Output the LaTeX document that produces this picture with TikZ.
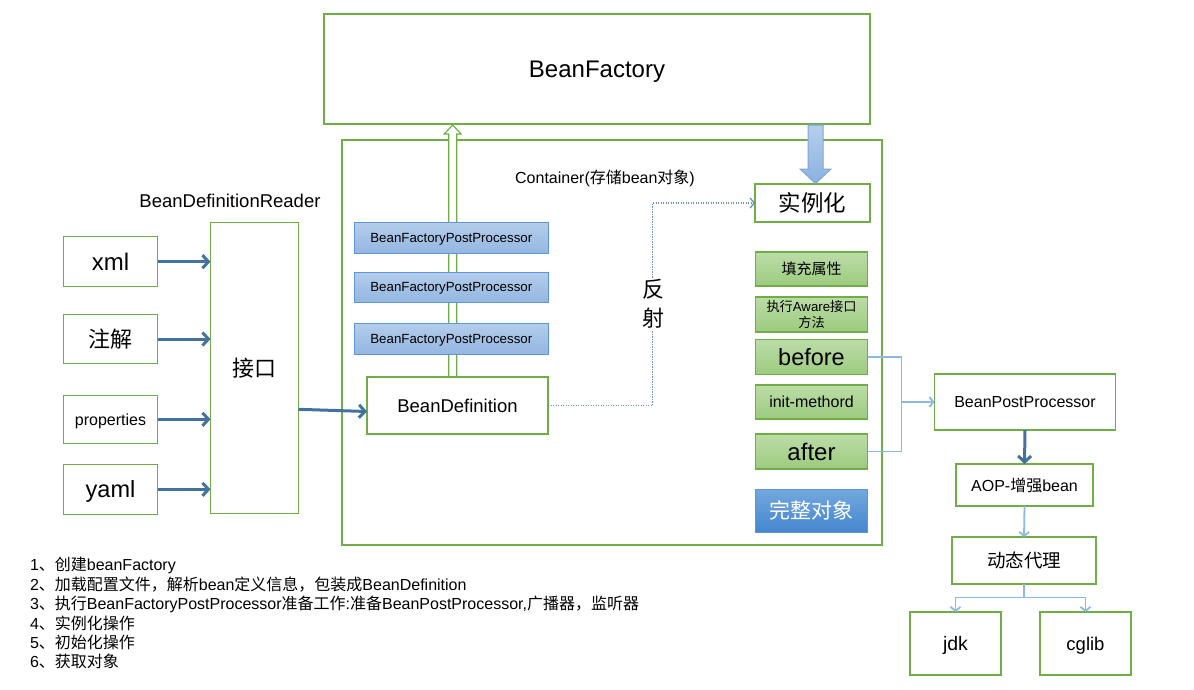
\documentclass[tikz,border=0pt]{standalone}
\usepackage{fontspec}
\setmainfont{Liberation Sans}
\newfontfamily\cjk{Noto Sans CJK SC}
\newcommand\zh[1]{{\cjk #1}}
\newcommand\fsz[1]{\fontsize{#1}{#1}\selectfont}
\usetikzlibrary{arrows.meta,calc}
\definecolor{gborder}{HTML}{70AD47}
\definecolor{gtop}{HTML}{BCDCA8}
\definecolor{gbot}{HTML}{9CCB7E}
\definecolor{bborder}{HTML}{5F96D6}
\definecolor{btop}{HTML}{B3CDEB}
\definecolor{bbot}{HTML}{94B6E1}
\definecolor{ctop}{HTML}{72A8DE}
\definecolor{cbot}{HTML}{4686CF}
\definecolor{darrow}{HTML}{44729F}
\definecolor{lblue}{HTML}{8DB8E3}
\definecolor{dotc}{HTML}{6F8FB8}
\definecolor{ftop}{HTML}{B7CFEC}
\definecolor{fbot}{HTML}{8AB0E0}
\definecolor{fborder}{HTML}{7FA6D8}
\begin{document}
\begin{tikzpicture}[x=1pt,y=-1pt,
  every node/.style={inner sep=0pt,outer sep=0pt},
  nd/.style={text depth=0pt},
  gbox/.style={draw=gborder,line width=1.1pt,fill=white},
  greenfill/.style={draw=gborder,line width=1.1pt,top color=gtop,bottom color=gbot},
  bfppbox/.style={draw=bborder,line width=1pt,top color=btop,bottom color=bbot,nd},
  donebox/.style={draw=bborder,line width=1pt,top color=ctop,bottom color=cbot,text=white},
  thickarrow/.style={draw=darrow,line width=3pt,-{Straight Barb[length=6pt,width=13pt]}},
  lbline/.style={draw=lblue,line width=1.8pt},
  lbarrow/.style={lbline,-{Straight Barb[length=4pt,width=10pt]}},
  dotconn/.style={draw=dotc,line width=1.3pt,dash pattern=on 1.2pt off 1.3pt,-{Straight Barb[length=4pt,width=10pt]}}
]
\useasboundingbox (0,0) rectangle (1194,689);

% big boxes
\node[gbox,nd,minimum width=546,minimum height=110] (bf) at (597,69) {\fsz{24}BeanFactory};
\node[gbox,minimum width=540,minimum height=405] (ct) at (612,342.5) {};
\node[nd] (ctlabel) at (605,177) {\fsz{16}Container(\zh{存储}bean\zh{对象})};

% hollow up arrow (behind the BFPP boxes)
\coordinate (ua) at (452.7,377);
\begin{scope}[shift={(ua)}]
\draw[draw=gborder,line width=1.1pt,fill=white] (-4,0) -- (-4,-243) -- (-8.5,-243) -- (0,-252) -- (8.5,-243) -- (4,-243) -- (4,0) -- cycle;
\end{scope}

% reader side
\node[nd] (reader) at (230,200.7) {\fsz{18.5}BeanDefinitionReader};
\node[gbox,minimum width=94,minimum height=50] (xml) at (110.5,261.7) {\fsz{24}xml};
\node[gbox,minimum width=94,minimum height=49] (zj) at (110.5,339) {\fsz{22}\zh{注解}};
\node[gbox,nd,minimum width=94,minimum height=48] (prop) at (110.5,419.3) {\fsz{16}properties};
\node[gbox,nd,minimum width=94,minimum height=50] (yaml) at (110.5,489.3) {\fsz{23.5}yaml};
\node[gbox,minimum width=88,minimum height=291] (jk) at (254.5,367.8) {\fsz{22}\zh{接口}};

\draw[thickarrow] (xml.east) -- (jk.west |- xml.east);
\draw[thickarrow] (zj.east) -- (jk.west |- zj.east);
\draw[thickarrow] (prop.east) -- (jk.west |- prop.east);
\draw[thickarrow] (yaml.east) -- (jk.west |- yaml.east);

% BFPP boxes
\node[bfppbox,minimum width=194,minimum height=31] (bfpp1) at (451.3,238) {\fsz{13.3}BeanFactoryPostProcessor};
\node[bfppbox,minimum width=194,minimum height=30] (bfpp2) at (451.3,287.3) {\fsz{13.3}BeanFactoryPostProcessor};
\node[bfppbox,minimum width=194,minimum height=31] (bfpp3) at (451.3,338.8) {\fsz{13.3}BeanFactoryPostProcessor};

\node[gbox,nd,minimum width=181,minimum height=57] (bd) at (457.5,405.5) {\fsz{18.5}BeanDefinition};
\draw[thickarrow] ($(jk.east)+(0,41.5)$) -- ($(bd.west)+(0,6)$);

% instantiation column
\node[gbox,minimum width=115,minimum height=38] (sl) at (812.5,203) {\fsz{22.5}\zh{实例化}};
\draw[dotconn] (bd.east) -- ++(104.5,0) coordinate (rf) |- (sl.west);
\node[fill=white,align=center,inner sep=1pt,font={\fontsize{22}{29}\selectfont\cjk}] (fanshe) at (653,304) {反\\射};

% fat arrow from BeanFactory to 实例化
\coordinate (fa) at (815.5,125);
\begin{scope}[shift={(fa)}]
\shade[top color=ftop,bottom color=fbot,draw=fborder,line width=1pt] (-7.5,0) -- (-7.5,44) -- (-15.5,44) -- (0,58.5) -- (15.5,44) -- (7.5,44) -- (7.5,0) -- cycle;
\end{scope}

\node[greenfill,minimum width=112,minimum height=34] (tc) at (811.5,269) {\fsz{15}\zh{填充属性}};
\node[greenfill,minimum width=112,minimum height=35,align=center,font={\fontsize{13.2}{16}\selectfont}] (aw) at (811.5,314.5) {\zh{执行}Aware\zh{接口}\\\zh{方法}};
\node[greenfill,minimum width=112,minimum height=35] (bef) at (811.5,357) {\fsz{23.5}before};
\node[greenfill,minimum width=112,minimum height=34] (init) at (811.5,402) {\fsz{16}init-methord};
\node[greenfill,minimum width=112,minimum height=35] (aft) at (811.5,451.5) {\fsz{24}after};
\node[donebox,minimum width=112,minimum height=43] (wz) at (811.5,510.5) {\fsz{21}\zh{完整对象}};

% post processor side
\node[gbox,nd,minimum width=181,minimum height=56] (bpp) at (1025,402) {\fsz{16}BeanPostProcessor};
\draw[lbline] (bef.east) -- ++(34,0) coordinate (jn) |- (aft.east);
\draw[lbarrow] (jn |- bpp.west) -- (bpp.west);

\node[gbox,nd,minimum width=137,minimum height=42] (aop) at (1024.5,485) {\fsz{16}AOP-\zh{增强}bean};
\draw[thickarrow] (bpp.south) -- (aop.north);
\node[gbox,minimum width=144,minimum height=47] (dt) at (1024,560.5) {\fsz{18.5}\zh{动态代理}};
\draw[lbarrow] (aop.south) -- (dt.north);
\node[gbox,nd,minimum width=91,minimum height=63] (jdk) at (955.5,643.5) {\fsz{19.5}jdk};
\node[gbox,nd,minimum width=91,minimum height=63] (cglib) at (1085.5,643.5) {\fsz{18.5}cglib};
\draw[lbline] (dt.south) -- ++(0,13.5) coordinate (sp);
\draw[lbarrow] (sp) -| (jdk.north);
\draw[lbarrow] (sp) -| (cglib.north);

% notes
\node[anchor=north west,align=left,font={\fontsize{16}{19.4}\selectfont}] (notes) at (30,557.5) {%
1\zh{、创建}beanFactory\\
2\zh{、加载配置文件，解析}bean\zh{定义信息，包装成}BeanDefinition\\
3\zh{、执行}BeanFactoryPostProcessor\zh{准备工作}:\zh{准备}BeanPostProcessor,\zh{广播器，监听器}\\
4\zh{、实例化操作}\\
5\zh{、初始化操作}\\
6\zh{、获取对象}};
\end{tikzpicture}
\end{document}
